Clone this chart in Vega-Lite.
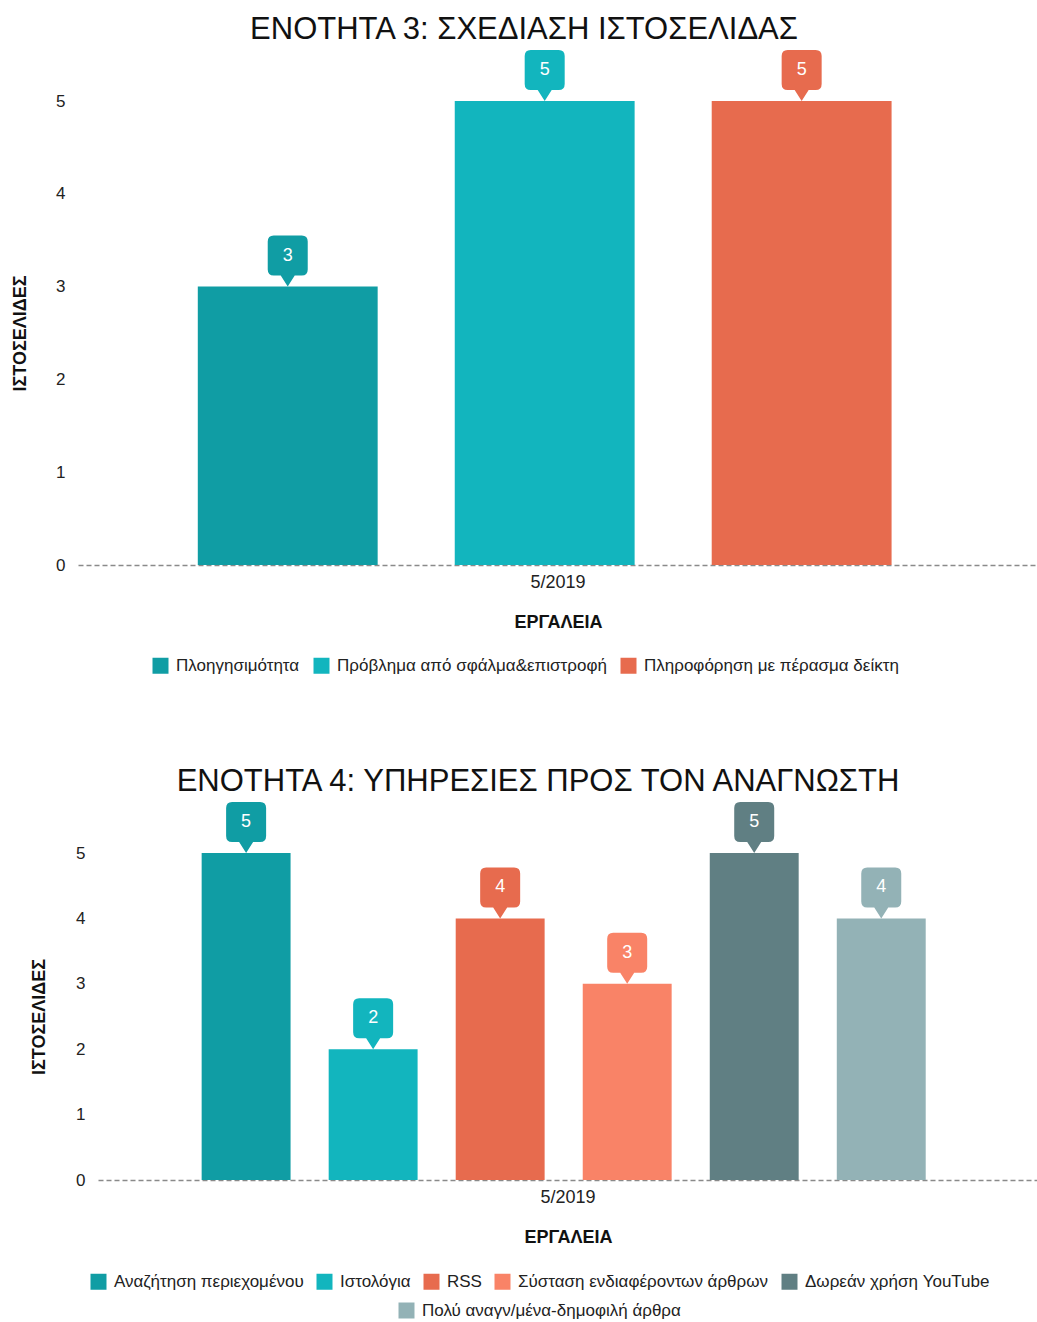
{
  "$schema": "https://vega.github.io/schema/vega-lite/v6.json",
  "padding": {"left": 7, "top": 14, "right": 0, "bottom": 0},
  "background": "white",
  "config": {
    "font": "Liberation Sans",
    "view": {"stroke": null},
    "axis": {"grid": false, "labelFont": "Liberation Sans", "titleFont": "Liberation Sans"},
    "title": {"font": "Liberation Sans", "fontWeight": "normal", "fontSize": 31, "color": "#111"},
    "legend": {"labelFont": "Liberation Sans", "labelLimit": 0}
  },
  "datasets": {
    "s3": [
      {"period": "5/2019", "tool": "Πλοηγησιμότητα", "sites": 3},
      {"period": "5/2019", "tool": "Πρόβλημα από σφάλμα&επιστροφή", "sites": 5},
      {"period": "5/2019", "tool": "Πληροφόρηση με πέρασμα δείκτη", "sites": 5}
    ],
    "s4": [
      {"period": "5/2019", "tool": "Αναζήτηση περιεχομένου", "sites": 5},
      {"period": "5/2019", "tool": "Ιστολόγια", "sites": 2},
      {"period": "5/2019", "tool": "RSS", "sites": 4},
      {"period": "5/2019", "tool": "Σύσταση ενδιαφέροντων άρθρων", "sites": 3},
      {"period": "5/2019", "tool": "Δωρεάν χρήση YouTube", "sites": 5},
      {"period": "5/2019", "tool": "Πολύ αναγν/μένα-δημοφιλή άρθρα", "sites": 4}
    ]
  },
  "vconcat": [
    {
      "title": {"text": "ΕΝΟΤΗΤΑ 3: ΣΧΕΔΙΑΣΗ ΙΣΤΟΣΕΛΙΔΑΣ", "anchor": "middle", "offset": 4, "dx": -34},
      "width": 960,
      "height": 464,
      "data": {"name": "s3"},
      "encoding": {
        "x": {
          "field": "period", "type": "nominal",
          "scale": {"paddingInner": 0, "paddingOuter": 0},
          "axis": {"title": "ΕΡΓΑΛΕΙΑ", "labelAngle": 0, "labelFontSize": 18, "labelColor": "#222", "labelPadding": 8,
                   "titleFontSize": 18, "titleFontWeight": "bold", "titleColor": "#111", "titlePadding": 22,
                   "ticks": false, "domainColor": "#8a8a8a", "domainDash": [5, 3], "domainWidth": 1.4}
        },
        "xOffset": {
          "field": "tool", "type": "nominal", "sort": null,
          "scale": {"paddingInner": 0.3, "paddingOuter": 0.518, "align": 0.45}
        },
        "y": {
          "field": "sites", "type": "quantitative",
          "scale": {"domain": [0, 5], "nice": false},
          "axis": {"title": "ΙΣΤΟΣΕΛΙΔΕΣ", "values": [0, 1, 2, 3, 4, 5], "domain": false,
                   "ticks": true, "tickSize": 70, "tickColor": "transparent", "labelPadding": -57,
                   "labelFontSize": 17, "labelColor": "#222",
                   "titleFontSize": 18, "titleFontWeight": "bold", "titleColor": "#111",
                   "titleX": -58, "titleBaseline": "middle"}
        }
      },
      "layer": [
        {
          "mark": {"type": "bar"},
          "encoding": {
            "color": {
              "field": "tool", "type": "nominal", "sort": null,
              "scale": {"domain": ["Πλοηγησιμότητα", "Πρόβλημα από σφάλμα&επιστροφή", "Πληροφόρηση με πέρασμα δείκτη"],
                        "range": ["#109DA4", "#12B5BE", "#E76B4E"]},
              "legend": {"title": null, "orient": "none", "direction": "horizontal", "legendX": 74, "legendY": 556,
                         "symbolType": "square", "symbolSize": 256, "symbolStrokeWidth": 0, "labelFontSize": 17,
                         "labelColor": "#222", "labelOffset": 7, "columnPadding": 13}
            }
          }
        },
        {
          "mark": {"type": "point", "filled": true, "opacity": 1, "strokeWidth": 0, "size": 1600,
                   "shape": "M0,0L-0.35,-0.55L-0.7,-0.55Q-1,-0.55,-1,-0.85L-1,-2.25Q-1,-2.55,-0.7,-2.55L0.7,-2.55Q1,-2.55,1,-2.25L1,-0.85Q1,-0.55,0.7,-0.55L0.35,-0.55Z"},
          "encoding": {
            "color": {"field": "tool", "type": "nominal", "sort": null}
          }
        },
        {
          "mark": {"type": "text", "color": "white", "fontSize": 18, "baseline": "middle", "align": "center", "dy": -31},
          "encoding": {"text": {"field": "sites", "type": "quantitative"}}
        }
      ]
    },
    {
      "title": {"text": "ΕΝΟΤΗΤΑ 4: ΥΠΗΡΕΣΙΕΣ ΠΡΟΣ ΤΟΝ ΑΝΑΓΝΩΣΤΗ", "anchor": "middle", "offset": 4, "dx": -20},
      "width": 960,
      "height": 327,
      "data": {"name": "s4"},
      "encoding": {
        "x": {
          "field": "period", "type": "nominal",
          "scale": {"paddingInner": 0, "paddingOuter": 0, "range": [20, 960]},
          "axis": {"title": "ΕΡΓΑΛΕΙΑ", "labelAngle": 0, "labelFontSize": 18, "labelColor": "#222", "labelPadding": 8,
                   "titleFontSize": 18, "titleFontWeight": "bold", "titleColor": "#111", "titlePadding": 22,
                   "ticks": false, "domainColor": "#8a8a8a", "domainDash": [5, 3], "domainWidth": 1.4}
        },
        "xOffset": {
          "field": "tool", "type": "nominal", "sort": null,
          "scale": {"paddingInner": 0.3, "paddingOuter": 0.85, "align": 0.48}
        },
        "y": {
          "field": "sites", "type": "quantitative",
          "scale": {"domain": [0, 5], "nice": false},
          "axis": {"title": "ΙΣΤΟΣΕΛΙΔΕΣ", "values": [0, 1, 2, 3, 4, 5], "domain": false, "offset": -20,
                   "ticks": false, "labelPadding": 13,
                   "labelFontSize": 17, "labelColor": "#222",
                   "titleFontSize": 18, "titleFontWeight": "bold", "titleColor": "#111",
                   "titleX": -59, "titleBaseline": "middle"}
        }
      },
      "layer": [
        {
          "mark": {"type": "bar"},
          "encoding": {
            "color": {
              "field": "tool", "type": "nominal", "sort": null,
              "scale": {"domain": ["Αναζήτηση περιεχομένου", "Ιστολόγια", "RSS", "Σύσταση ενδιαφέροντων άρθρων", "Δωρεάν χρήση YouTube", "Πολύ αναγν/μένα-δημοφιλή άρθρα"],
                        "range": ["#109DA4", "#12B5BE", "#E76B4E", "#F98367", "#607F83", "#93B2B6"]},
              "legend": {"title": null, "orient": "none", "direction": "horizontal", "legendX": 12, "legendY": 420,
                         "values": ["Αναζήτηση περιεχομένου", "Ιστολόγια", "RSS", "Σύσταση ενδιαφέροντων άρθρων", "Δωρεάν χρήση YouTube"],
                         "symbolType": "square", "symbolSize": 256, "symbolStrokeWidth": 0, "labelFontSize": 17,
                         "labelColor": "#222", "labelOffset": 7, "columnPadding": 12}
            }
          }
        },
        {
          "mark": {"type": "point", "filled": true, "opacity": 1, "strokeWidth": 0, "size": 1600,
                   "shape": "M0,0L-0.35,-0.55L-0.7,-0.55Q-1,-0.55,-1,-0.85L-1,-2.25Q-1,-2.55,-0.7,-2.55L0.7,-2.55Q1,-2.55,1,-2.25L1,-0.85Q1,-0.55,0.7,-0.55L0.35,-0.55Z"},
          "encoding": {
            "fill": {
              "field": "tool", "type": "nominal", "sort": null,
              "scale": {"domain": ["Πολύ αναγν/μένα-δημοφιλή άρθρα", "Αναζήτηση περιεχομένου", "Ιστολόγια", "RSS", "Σύσταση ενδιαφέροντων άρθρων", "Δωρεάν χρήση YouTube"],
                        "range": ["#93B2B6", "#109DA4", "#12B5BE", "#E76B4E", "#F98367", "#607F83"]},
              "legend": {"title": null, "orient": "none", "direction": "horizontal", "legendX": 320, "legendY": 449,
                         "values": ["Πολύ αναγν/μένα-δημοφιλή άρθρα"],
                         "symbolType": "square", "symbolSize": 256, "symbolStrokeWidth": 0, "labelFontSize": 17,
                         "labelColor": "#222", "labelOffset": 7}
            }
          }
        },
        {
          "mark": {"type": "text", "color": "white", "fontSize": 18, "baseline": "middle", "align": "center", "dy": -31},
          "encoding": {"text": {"field": "sites", "type": "quantitative"}}
        }
      ]
    }
  ],
  "resolve": {
    "scale": {"x": "independent", "y": "independent", "xOffset": "independent", "color": "independent", "fill": "independent"},
    "axis": {"x": "independent", "y": "independent"},
    "legend": {"color": "independent", "fill": "independent"}
  },
  "spacing": 92
}
